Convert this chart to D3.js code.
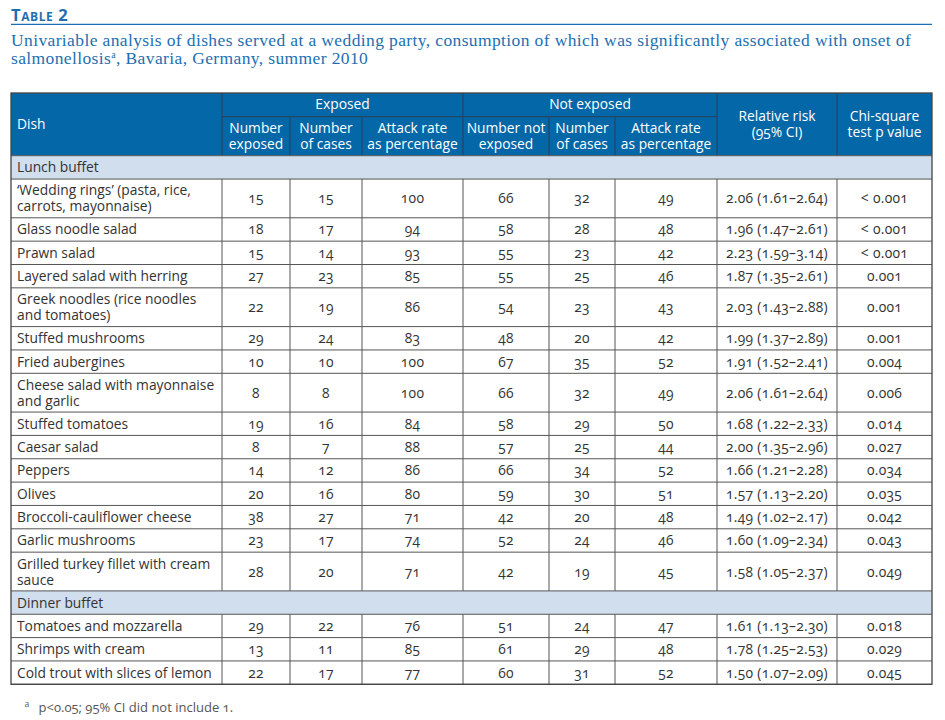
<!DOCTYPE html>
<html>
<head>
<meta charset="utf-8">
<script src="https://cdn.jsdelivr.net/npm/d3@7"></script>
<style>
  html, body { margin: 0; padding: 0; background: #fff; }
  svg { display: block; }
  .tbl { font-family: "Open Sans", "Noto Sans", sans-serif; font-size: 13.8px; font-variant-numeric: oldstyle-nums; }
</style>
</head>
<body>
<svg id="chart" width="945" height="720"></svg>
<script>
// ---------------- DATA ----------------
const tableTitle = "Table 2";
const captionLines = [
  "Univariable analysis of dishes served at a wedding party, consumption of which was significantly associated with onset of",
  "salmonellosis|a|, Bavaria, Germany, summer 2010"
];
const footnote = "p<0.05; 95% CI did not include 1.";

const groupHeaders = ["Exposed", "Not exposed"];
const columnHeaders = [
  ["Dish"],
  ["Number", "exposed"],
  ["Number", "of cases"],
  ["Attack rate", "as percentage"],
  ["Number not", "exposed"],
  ["Number", "of cases"],
  ["Attack rate", "as percentage"],
  ["Relative risk", "(95% CI)"],
  ["Chi-square", "test p value"]
];

const meals = ["Lunch buffet", "Dinner buffet"];
const dishMeal = [
  "Lunch buffet","Lunch buffet","Lunch buffet","Lunch buffet","Lunch buffet",
  "Lunch buffet","Lunch buffet","Lunch buffet","Lunch buffet","Lunch buffet",
  "Lunch buffet","Lunch buffet","Lunch buffet","Lunch buffet","Lunch buffet",
  "Dinner buffet","Dinner buffet","Dinner buffet"
];
const dishes = [
  "‘Wedding rings’ (pasta, rice,\ncarrots, mayonnaise)",
  "Glass noodle salad",
  "Prawn salad",
  "Layered salad with herring",
  "Greek noodles (rice noodles\nand tomatoes)",
  "Stuffed mushrooms",
  "Fried aubergines",
  "Cheese salad with mayonnaise\nand garlic",
  "Stuffed tomatoes",
  "Caesar salad",
  "Peppers",
  "Olives",
  "Broccoli-cauliflower cheese",
  "Garlic mushrooms",
  "Grilled turkey fillet with cream\nsauce",
  "Tomatoes and mozzarella",
  "Shrimps with cream",
  "Cold trout with slices of lemon"
];
const exposedNumber    = [15, 18, 15, 27, 22, 29, 10, 8, 19, 8, 14, 20, 38, 23, 28, 29, 13, 22];
const exposedCases     = [15, 17, 14, 23, 19, 24, 10, 8, 16, 7, 12, 16, 27, 17, 20, 22, 11, 17];
const exposedAttack    = [100, 94, 93, 85, 86, 83, 100, 100, 84, 88, 86, 80, 71, 74, 71, 76, 85, 77];
const notExposedNumber = [66, 58, 55, 55, 54, 48, 67, 66, 58, 57, 66, 59, 42, 52, 42, 51, 61, 60];
const notExposedCases  = [32, 28, 23, 25, 23, 20, 35, 32, 29, 25, 34, 30, 20, 24, 19, 24, 29, 31];
const notExposedAttack = [49, 48, 42, 46, 43, 42, 52, 49, 50, 44, 52, 51, 48, 46, 45, 47, 48, 52];
const relativeRisk     = [2.06, 1.96, 2.23, 1.87, 2.03, 1.99, 1.91, 2.06, 1.68, 2.00, 1.66, 1.57, 1.49, 1.60, 1.58, 1.61, 1.78, 1.50];
const ciLow            = [1.61, 1.47, 1.59, 1.35, 1.43, 1.37, 1.52, 1.61, 1.22, 1.35, 1.21, 1.13, 1.02, 1.09, 1.05, 1.13, 1.25, 1.07];
const ciHigh           = [2.64, 2.61, 3.14, 2.61, 2.88, 2.89, 2.41, 2.64, 2.33, 2.96, 2.28, 2.20, 2.17, 2.34, 2.37, 2.30, 2.53, 2.09];
const pValues          = ["< 0.001", "< 0.001", "< 0.001", "0.001", "0.001", "0.001", "0.004", "0.006", "0.014", "0.027", "0.034", "0.035", "0.042", "0.043", "0.049", "0.018", "0.029", "0.045"];

// ---------------- LAYOUT / STYLE ----------------
const colUnits = [211, 68, 72, 101, 86, 66, 102, 120, 95];
const tableLeft = 11, tableRight = 932, tableTop = 93;
const blue = "#0467a7", titleBlue = "#1d6fb2", groupFill = "#d1deed", lineCol = "#555", textCol = "#333";
const headerRow1 = 23.7, headerRow2 = 39, singleRow = 23.35, extraLine = 15.4;

const fmt2 = d3.format(".2f");
const svg = d3.select("#chart");

// column scale
const colEdges = d3.cumsum([0].concat(colUnits));
const x = d3.scaleLinear().domain([0, d3.sum(colUnits)]).range([tableLeft, tableRight]);
const colL = i => x(colEdges[i]), colR = i => x(colEdges[i + 1]), colC = i => (colL(i) + colR(i)) / 2;

// ----- title -----
svg.append("text").attr("x", tableLeft).attr("y", 21)
  .style("font-family", "'Open Sans', sans-serif").style("font-weight", 700)
  .style("font-size", "16.5px").style("font-variant", "small-caps").style("letter-spacing", "0.6px")
  .attr("fill", titleBlue).text(tableTitle);
svg.append("line").attr("x1", tableLeft).attr("x2", tableRight).attr("y1", 24.3).attr("y2", 24.3)
  .attr("stroke", titleBlue).attr("stroke-width", 1.3);

// ----- caption -----
captionLines.forEach((ln, i) => {
  const t = svg.append("text").attr("x", tableLeft).attr("y", 46 + i * 18)
    .style("font-family", "'Liberation Serif', 'DejaVu Serif', serif").style("font-size", "17.5px")
    .style("letter-spacing", "0.38px")
    .attr("fill", titleBlue);
  ln.split("|").forEach((part, j) => {
    const ts = t.append("tspan").text(part);
    if (j === 1) ts.attr("dy", -6).style("font-size", "10px");
    if (j === 2) ts.attr("dy", 6);
  });
});

// ----- build row model -----
const rows = [];
meals.forEach(m => {
  rows.push({ type: "group", label: m, lines: 1 });
  dishes.forEach((d, i) => { if (dishMeal[i] === m) rows.push({ type: "dish", i, lines: d.split("\n").length }); });
});
let yc = tableTop + headerRow1 + headerRow2;
rows.forEach(r => { r.y0 = yc; r.h = singleRow + (r.lines - 1) * extraLine; yc += r.h; r.y1 = yc; });
const tableBottom = yc;

const g = svg.append("g").attr("class", "tbl");

// header background
g.append("rect").attr("x", tableLeft).attr("y", tableTop).attr("width", tableRight - tableLeft)
  .attr("height", headerRow1 + headerRow2).attr("fill", blue);
// group rows background
g.selectAll("rect.grp").data(rows.filter(r => r.type === "group")).join("rect").attr("class", "grp")
  .attr("x", tableLeft).attr("y", d => d.y0).attr("width", tableRight - tableLeft).attr("height", d => d.h)
  .attr("fill", groupFill);

// header lines
const hdrLine = "#2b3f55";
const hMid = tableTop + headerRow1, hBot = tableTop + headerRow1 + headerRow2;
g.append("line").attr("x1", colL(1)).attr("x2", colR(6)).attr("y1", hMid).attr("y2", hMid).attr("stroke", hdrLine).attr("stroke-width", 1);
[1, 4, 7, 8].forEach(c => g.append("line").attr("x1", colL(c)).attr("x2", colL(c)).attr("y1", tableTop).attr("y2", hBot).attr("stroke", hdrLine));
[2, 3, 5, 6].forEach(c => g.append("line").attr("x1", colL(c)).attr("x2", colL(c)).attr("y1", hMid).attr("y2", hBot).attr("stroke", hdrLine));

// header text
const hdrText = (xx, anchor, cy, lines) => {
  const t = g.append("text").attr("fill", "#fff").attr("text-anchor", anchor);
  lines.forEach((l, k) => t.append("tspan").attr("x", xx).attr("y", cy + 5 + (k - (lines.length - 1) / 2) * 16).text(l));
};
hdrText((colL(1) + colR(3)) / 2, "middle", tableTop + headerRow1 / 2 - 0.5, [groupHeaders[0]]);
hdrText((colL(4) + colR(6)) / 2, "middle", tableTop + headerRow1 / 2 - 0.5, [groupHeaders[1]]);
hdrText(tableLeft + 6, "start", tableTop + (headerRow1 + headerRow2) / 2, columnHeaders[0]);
for (let c = 1; c <= 6; c++) hdrText(colC(c), "middle", hMid + headerRow2 / 2, columnHeaders[c]);
hdrText(colC(7), "middle", tableTop + (headerRow1 + headerRow2) / 2 - 0.5, columnHeaders[7]);
hdrText(colC(8), "middle", tableTop + (headerRow1 + headerRow2) / 2 - 0.5, columnHeaders[8]);

// body horizontal lines
g.selectAll("line.rowline").data(rows).join("line").attr("class", "rowline")
  .attr("x1", tableLeft).attr("x2", tableRight).attr("y1", d => d.y1).attr("y2", d => d.y1)
  .attr("stroke", lineCol).attr("stroke-width", 1);
g.append("line").attr("x1", tableLeft).attr("x2", tableRight).attr("y1", hBot).attr("y2", hBot).attr("stroke", lineCol);
// body vertical lines (dish rows only)
rows.filter(r => r.type === "dish").forEach(r => {
  for (let c = 1; c < colUnits.length; c++)
    g.append("line").attr("x1", colL(c)).attr("x2", colL(c)).attr("y1", r.y0).attr("y2", r.y1).attr("stroke", lineCol);
});

// group labels
g.selectAll("text.grp").data(rows.filter(r => r.type === "group")).join("text").attr("class", "grp")
  .attr("x", tableLeft + 6).attr("y", d => (d.y0 + d.y1) / 2 + 5).attr("fill", textCol).text(d => d.label);

// dish cells
const cellVals = i => [
  exposedNumber[i], exposedCases[i], exposedAttack[i],
  notExposedNumber[i], notExposedCases[i], notExposedAttack[i],
  `${fmt2(relativeRisk[i])} (${fmt2(ciLow[i])}–${fmt2(ciHigh[i])})`, pValues[i]
];
rows.filter(r => r.type === "dish").forEach(r => {
  const cy = (r.y0 + r.y1) / 2;
  const lines = dishes[r.i].split("\n");
  const t = g.append("text").attr("fill", textCol);
  lines.forEach((l, k) => t.append("tspan").attr("x", tableLeft + 6)
    .attr("y", cy + 5 + (k - (lines.length - 1) / 2) * 16).text(l));
  cellVals(r.i).forEach((v, k) => {
    g.append("text").attr("x", colC(k + 1)).attr("y", cy + 5).attr("text-anchor", "middle")
      .style("letter-spacing", "0.3px").attr("fill", textCol).text(v);
  });
});

// outer border
g.append("rect").attr("x", tableLeft).attr("y", tableTop).attr("width", tableRight - tableLeft)
  .attr("height", tableBottom - tableTop).attr("fill", "none").attr("stroke", "#444").attr("stroke-width", 1.3);

// footnote
const fn = svg.append("text").attr("y", 712).attr("fill", "#555")
  .style("font-family", "'Open Sans', sans-serif").style("font-size", "13px").style("font-variant-numeric", "oldstyle-nums");
fn.append("tspan").attr("x", 24.5).attr("dy", -5).style("font-size", "8.5px").text("a");
fn.append("tspan").attr("x", 38.5).attr("dy", 5).text(footnote);
</script>
</body>
</html>
